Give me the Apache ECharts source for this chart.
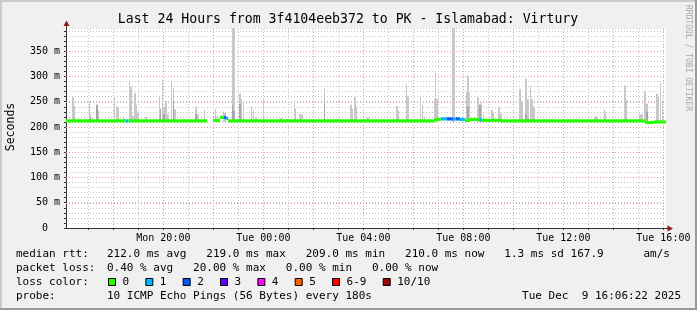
<!DOCTYPE html>
<html><head><meta charset="utf-8">
<script src="https://cdn.jsdelivr.net/npm/echarts@6/dist/echarts.min.js"></script>
<style>html,body{margin:0;padding:0;background:#f0f0f0}#c{width:697px;height:310px}</style>
</head><body><div id="c"></div>
<script>
// ---------- data ----------
const TITLE = 'Last 24 Hours from 3f4104eeb372 to PK - Islamabad: Virtury';
const Y_TITLE = 'Seconds';
const X_MIN = 16.106, X_MAX = 40.106;          // hours since Mon 00:00
const Y_MIN = 0, Y_MAX = 396;                   // milliseconds
const xTickHours = [20, 24, 28, 32, 36, 40];
const xTickLabels = ['Mon 20:00', 'Tue 00:00', 'Tue 04:00', 'Tue 08:00', 'Tue 12:00', 'Tue 16:00'];
const xGridHours = [17,18,19,20,21,22,23,24,25,26,27,28,29,30,31,32,33,34,35,36,37,38,39,40];
const yMajorValues = [50, 100, 150, 200, 250, 300, 350];
const SMOKE_BASE = 210; // min rtt in ms

// smoke spikes: time (h), max ping (ms), inner darker ping (ms, 0 = none)
const smokeHours = [16.39,16.45,16.89,17.04,17.09,17.17,17.35,17.41,18.05,18.13,18.19,18.43,18.65,18.71,18.79,18.87,18.93,18.99,19.31,19.84,19.89,19.97,20.03,20.11,20.19,20.33,20.41,20.47,21.31,21.39,21.65,22.09,22.17,22.41,22.47,22.77,22.83,23.07,23.13,23.21,23.53,23.61,23.71,24.01,24.71,24.95,25.24,25.29,25.47,25.55,26.45,26.91,27.51,27.57,27.67,27.73,28.19,28.51,29.35,29.41,29.73,29.79,30.29,30.37,30.45,30.85,30.89,30.95,31.59,31.65,32.13,32.19,32.25,32.59,32.67,32.73,32.81,33.15,33.21,33.43,33.51,34.27,34.35,34.51,34.59,34.69,34.75,34.83,37.25,37.31,37.37,37.65,37.69,38.47,38.53,39.07,39.15,39.27,39.35,39.75,39.81,39.89,39.97];
const smokeMax   = [259,242,217,252,225,220,244,233,259,242,240,218,292,279,222,267,244,230,220,262,236,294,240,252,225,289,277,235,240,225,234,236,222,231,228,396,396,266,255,250,240,233,220,254,218,216,252,236,225,225,276,216,244,236,259,240,220,216,242,233,285,262,262,244,220,256,307,256,396,396,269,302,269,259,244,248,225,233,228,240,226,275,252,295,255,279,255,240,218,221,218,236,228,282,255,225,225,271,246,266,260,287,254];
const smokeInner = [0,0,0,0,220,0,244,0,0,0,0,0,0,0,0,0,0,0,0,0,236,0,225,0,0,0,250,0,225,0,0,0,0,0,0,244,232,245,0,0,0,0,0,0,0,0,0,0,0,0,252,0,0,0,0,0,0,0,0,0,0,0,0,0,0,0,0,0,0,0,0,240,0,0,244,0,0,0,0,0,0,0,0,225,0,0,0,0,0,0,0,0,0,0,0,0,0,0,230,0,0,0,0];

// median rtt segments: start (h), end (h), value (ms), loss count
const medStart = [16.106,18.50,18.61,21.99,22.27,22.43,22.51,22.59,30.86,31.10,31.34,31.58,31.70,31.86,32.06,32.26,32.66,32.74,33.50,39.27,39.60];
const medEnd   = [18.50,18.61,21.75,22.27,22.43,22.51,22.59,30.86,31.10,31.34,31.58,31.70,31.86,32.06,32.26,32.66,32.74,33.50,39.27,39.60,40.106];
const medValue = [212,212,212,213,219,219,217,212,215,216,216,216,216,215,213,215,215,213,212,209,210];
const medLoss  = [0,1,0,0,0,2,1,0,0,1,2,1,2,1,0,0,1,0,0,0,0];

const lossColors = ['#26ff00','#00b8ff','#0059ff','#5e00ff','#ff00ff','#ff5e00','#ff0000','#a00000'];
const lossLabels = ['0','1','2','3','4','5','6-9','10/10'];

const legendRtt  = ['median rtt:', '212.0 ms avg   219.0 ms max   209.0 ms min   210.0 ms now   1.3 ms sd 167.9      am/s'];
const legendLoss = ['packet loss:', '0.40 % avg   20.00 % max   0.00 % min   0.00 % now'];
const legendProbe = ['probe:', '10 ICMP Echo Pings (56 Bytes) every 180s'];
const stampText = 'Tue Dec  9 16:06:22 2025';
const credit = 'RRDTOOL / TOBI OETIKER';

// ---------- chart ----------
const MONO = '"DejaVu Sans Mono", monospace';
const chart = echarts.init(document.getElementById('c'), null, {renderer: 'canvas', width: 697, height: 310});

const smokeData = smokeHours.map((h, i) => [h, smokeMax[i], smokeInner[i]]);
const medData = medStart.map((s, i) => [s, medEnd[i], medValue[i], medLoss[i]]);

const graphics = [
  {type:'rect', shape:{x:0,y:0,width:697,height:2}, style:{fill:'#cbcbcb'}, silent:true},
  {type:'rect', shape:{x:0,y:0,width:2,height:310}, style:{fill:'#cbcbcb'}, silent:true},
  {type:'rect', shape:{x:0,y:308,width:697,height:2}, style:{fill:'#999999'}, silent:true},
  {type:'rect', shape:{x:695,y:0,width:2,height:310}, style:{fill:'#999999'}, silent:true},
  {type:'text', x:348, y:19.5, style:{text:TITLE, font:'13.2px ' + MONO, fill:'#000', align:'center', verticalAlign:'middle'}},
  {type:'text', x:11.5, y:127, rotation:Math.PI/2, style:{text:Y_TITLE, font:'11.5px ' + MONO, fill:'#000', align:'center', verticalAlign:'middle'}},
  {type:'text', x:688, y:58, rotation:-Math.PI/2, style:{text:credit, font:'8px ' + MONO, fill:'#a8a8a8', align:'center', verticalAlign:'middle'}},
  // axis extensions & arrows
  {type:'line', shape:{x1:66.5,y1:28,x2:66.5,y2:25}, style:{stroke:'#333',lineWidth:1}},
  {type:'polygon', shape:{points:[[63.5,26],[69.5,26],[66.5,20.5]]}, style:{fill:'#8b1a1a'}},
  {type:'line', shape:{x1:666,y1:228.5,x2:668,y2:228.5}, style:{stroke:'#333',lineWidth:1}},
  {type:'polygon', shape:{points:[[667.5,225.5],[667.5,231.5],[673,228.5]]}, style:{fill:'#8b1a1a'}}
];
const LX = 16, VX = 107;
const rows = [254.5, 268.4, 282.2, 296];
const txt = (t, x, y, align) => ({type:'text', x:x, y:y, style:{text:t, font:'11px ' + MONO, fill:'#000', align:align || 'left', verticalAlign:'middle'}});
graphics.push(txt(legendRtt[0], LX, rows[0]), txt(legendRtt[1], VX, rows[0]));
graphics.push(txt(legendLoss[0], LX, rows[1]), txt(legendLoss[1], VX, rows[1]));
graphics.push(txt('loss color:', LX, rows[2]));
let cx = 108;
lossLabels.forEach((lab, k) => {
  graphics.push({type:'rect', shape:{x:cx + 0.5, y:278.5, width:7, height:7}, style:{fill:lossColors[k], stroke:'#000', lineWidth:1}});
  graphics.push(txt(lab, cx + 14.5, rows[2]));
  cx += 30.67 + 6.67 * lab.length;
});
graphics.push(txt(legendProbe[0], LX, rows[3]), txt(legendProbe[1], VX, rows[3]));
graphics.push(txt(stampText, 681, rows[3], 'right'));

const GRAY = '#c4c4c4', RED = '#e49a9a';

chart.setOption({
  backgroundColor: '#f0f0f0',
  animation: false,
  grid: {left: 66, right: 31, top: 28, bottom: 82, show: true, backgroundColor: '#ffffff', borderWidth: 0,
         containLabel: false, outerBoundsMode: 'none'},
  xAxis: {
    type: 'value', min: X_MIN, max: X_MAX,
    axisLine: {show: true, onZero: false, lineStyle: {color: '#333', width: 1}},
    axisTick: {show: true, customValues: xGridHours, length: 2, lineStyle: {color: '#333'}},
    axisLabel: {customValues: xTickHours, margin: 5, fontFamily: MONO, fontSize: 10, color: '#000',
      formatter: v => { const i = xTickHours.findIndex(t => Math.abs(t - v) < 1e-6); return i >= 0 ? xTickLabels[i] : ''; }},
    splitLine: {show: false}
  },
  yAxis: {
    type: 'value', min: Y_MIN, max: Y_MAX, interval: 10,
    axisLine: {show: true, lineStyle: {color: '#333', width: 1}},
    axisTick: {show: true, length: 2, lineStyle: {color: '#333'}},
    axisLabel: {margin: 6, fontFamily: MONO, fontSize: 10, color: '#000', showMaxLabel: false,
      formatter: v => (Math.round(v) % 50 === 0) ? (v === 0 ? '0  ' : Math.round(v) + ' m') : ''},
    splitLine: {show: true, lineStyle: {color: GRAY, width: 1, type: [1, 2]}}
  },
  graphic: graphics,
  series: [
    { // vertical grid lines
      type: 'custom', z: 1, silent: true,
      data: xGridHours.map(h => [h, Y_MIN]),
      renderItem: (params, api) => {
        const h = api.value(0);
        const a = api.coord([h, Y_MIN]), b = api.coord([h, Y_MAX]);
        const x = Math.round(a[0]) + 0.5;
        return {type:'line', shape:{x1:x, y1:a[1], x2:x, y2:b[1]},
          style:{stroke: (h % 2 === 0) ? RED : GRAY, lineWidth:1, lineDash:[1,2]}};
      }
    },
    { // horizontal major grid lines
      type: 'custom', z: 1, silent: true,
      data: yMajorValues.map(v => [X_MIN, v]),
      renderItem: (params, api) => {
        const v = api.value(1);
        const a = api.coord([X_MIN, v]), b = api.coord([X_MAX, v]);
        const y = Math.round(a[1]) + 0.5;
        return {type:'line', shape:{x1:a[0], y1:y, x2:b[0], y2:y}, style:{stroke:RED, lineWidth:1, lineDash:[1,2]}};
      }
    },
    { // smoke
      type: 'custom', z: 2, silent: true,
      data: smokeData,
      encode: {x: 0, y: 1},
      renderItem: (params, api) => {
        const h = api.value(0), mx = api.value(1), inner = api.value(2);
        const w = 0.06;
        const p0 = api.coord([h - w / 2, SMOKE_BASE]);
        const p1 = api.coord([h + w / 2, mx]);
        const x0 = Math.round(p0[0]), x1 = Math.max(x0 + 1, Math.round(p1[0]));
        const ch = [{type:'rect', shape:{x:x0, y:p1[1], width:x1 - x0, height:p0[1] - p1[1]}, style:{fill:'#c8c8c8'}}];
        if (inner > SMOKE_BASE) {
          const pi = api.coord([h, inner]);
          ch.push({type:'rect', shape:{x:x0, y:pi[1], width:x1 - x0, height:p0[1] - pi[1]}, style:{fill:'#a6a6a6'}});
        }
        return {type:'group', children: ch};
      }
    },
    { // median rtt coloured by loss
      type: 'custom', z: 3, silent: true,
      data: medData,
      encode: {x: [0, 1], y: 2},
      renderItem: (params, api) => {
        const v = api.value(2);
        const a = api.coord([api.value(0), v]), b = api.coord([api.value(1), v]);
        return {type:'rect', shape:{x:a[0], y:a[1] - 1.6, width:b[0] - a[0], height:3.2}, style:{fill: lossColors[api.value(3)]}};
      }
    }
  ]
});
</script></body></html>
